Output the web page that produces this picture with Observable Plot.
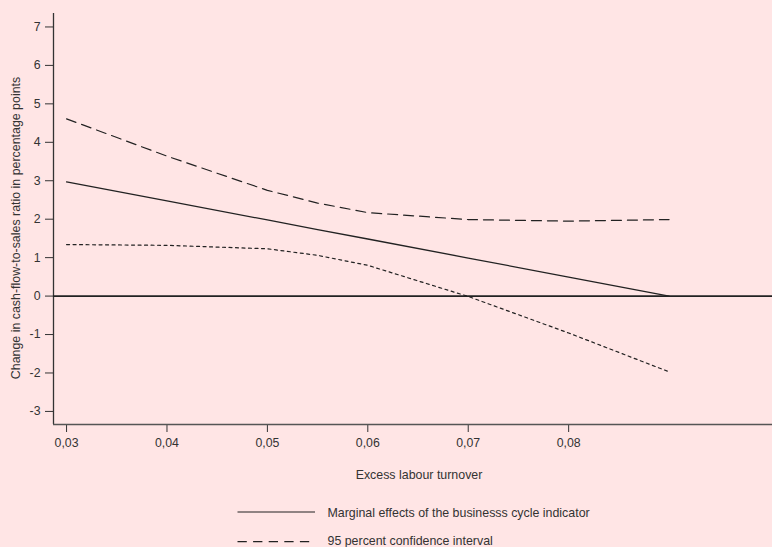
<!DOCTYPE html>
<html><head><meta charset="utf-8">
<script src="https://cdn.jsdelivr.net/npm/d3@7"></script>
<script src="https://cdn.jsdelivr.net/npm/@observablehq/plot@0.6"></script>
<style>html,body{margin:0;padding:0;background:#ffe5e5;} svg{display:block;}</style>
</head><body><div id="chart"></div>
<script>
// Data
const xVals    = [0.03, 0.04, 0.05, 0.055, 0.06, 0.07, 0.08, 0.09];
const marginal = [2.97, 2.475, 1.98, 1.73, 1.485, 0.99, 0.495, 0.0];
const upper    = [4.61, 3.64, 2.75, 2.42, 2.17, 1.99, 1.95, 1.99];
const lower    = [1.34, 1.32, 1.23, 1.06, 0.80, -0.01, -0.96, -1.97];
const xTicks = [0.03, 0.04, 0.05, 0.06, 0.07, 0.08];
const yTicks = [-3, -2, -1, 0, 1, 2, 3, 4, 5, 6, 7];
const xTitle = "Excess labour turnover";
const yTitle = "Change in cash-flow-to-sales ratio in percentage points";
const legendItems = ["Marginal effects of the businesss cycle indicator", "95 percent confidence interval"];

const rows = xVals.map((x, i) => ({x, marginal: marginal[i], upper: upper[i], lower: lower[i]}));
const xDom = [0.0287, 0.1003], yDom = [-3.34, 7.35];
const fmt = d => d.toFixed(2).replace(".", ",");

const svgEl = Plot.plot({
  width: 772, height: 547,
  marginLeft: 53, marginTop: 13, marginBottom: 547 - 424, marginRight: 0,
  style: {background: "#ffe5e5", fontFamily: "'Liberation Sans', Arial, sans-serif", fontSize: "12.3px", color: "#333"},
  x: {domain: xDom},
  y: {domain: yDom},
  marks: [
    Plot.axisX({ticks: xTicks, tickFormat: fmt, tickSize: 8, tickPadding: 6, label: null, stroke: "#333"}),
    Plot.axisY({ticks: yTicks, tickFormat: d => String(d), tickSize: 8, tickPadding: 5, label: null, stroke: "#333"}),
    Plot.ruleX([xDom[0]], {stroke: "#333", strokeWidth: 1.3}),
    Plot.ruleY([yDom[0]], {stroke: "#555", strokeWidth: 1.3}),
    Plot.ruleY([0], {stroke: "#222", strokeWidth: 1.7}),
    Plot.lineY(rows, {x: "x", y: "marginal", stroke: "#222", strokeWidth: 1.3}),
    Plot.lineY(rows, {x: "x", y: "upper", stroke: "#222", strokeWidth: 1.2, strokeDasharray: "10,6"}),
    Plot.lineY(rows, {x: "x", y: "lower", stroke: "#222", strokeWidth: 1.2, strokeDasharray: "3,3.5"})
  ]
});

const svg = d3.select(svgEl);
const font = "'Liberation Sans', Arial, sans-serif";
svg.append("text").attr("transform", "translate(20,228) rotate(-90)")
  .attr("text-anchor", "middle").attr("fill", "#333").style("font", "12.4px " + font).text(yTitle);
svg.append("text").attr("x", 419).attr("y", 479)
  .attr("text-anchor", "middle").attr("fill", "#333").style("font", "12.4px " + font).text(xTitle);
const lg = [{y: 512, dash: null, ty: 516.5}, {y: 541.7, dash: "9.3,6.3", ty: 544.6}];
lg.forEach((d, i) => {
  svg.append("line").attr("x1", 237.5).attr("x2", 315).attr("y1", d.y).attr("y2", d.y)
    .attr("stroke", "#222").attr("stroke-width", 1.2).attr("stroke-dasharray", d.dash);
  svg.append("text").attr("x", 327.5).attr("y", d.ty).attr("fill", "#333")
    .attr("text-anchor", "start").style("font", "12.4px " + font).text(legendItems[i]);
});
document.getElementById("chart").appendChild(svgEl);
</script></body></html>
